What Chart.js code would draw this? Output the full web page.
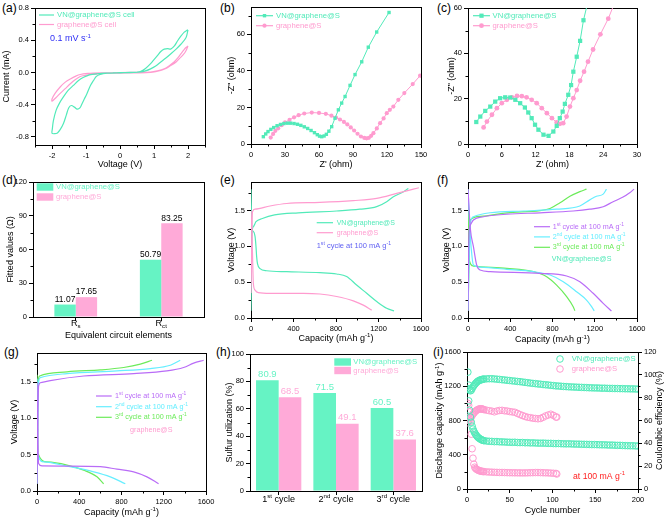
<!DOCTYPE html>
<html>
<head>
<meta charset="utf-8">
<script src="https://cdn.jsdelivr.net/npm/chart.js@4.4.1/dist/chart.umd.min.js"></script>
<style>
  html, body { margin: 0; padding: 0; background: #fff; }
  #fig { position: relative; width: 667px; height: 519px; overflow: hidden; font-family: Arial, "Liberation Sans", sans-serif; }
  #fig canvas { position: absolute; }
  .lbl { position: absolute; font-size: 12px; line-height: 14px; color: #000; }
</style>
</head>
<body>
<div id="fig">
  <div class="lbl" style="left:2px;top:1px">(a)</div>
  <div class="lbl" style="left:220px;top:1px">(b)</div>
  <div class="lbl" style="left:437px;top:1px">(c)</div>
  <div class="lbl" style="left:2px;top:173px">(d)</div>
  <div class="lbl" style="left:220px;top:173px">(e)</div>
  <div class="lbl" style="left:437px;top:173px">(f)</div>
  <div class="lbl" style="left:4px;top:345px">(g)</div>
  <div class="lbl" style="left:216px;top:345px">(h)</div>
  <div class="lbl" style="left:433px;top:345px">(i)</div>
</div>
<script>
// (a) CV loops, voltage (V) / current (mA)
const cvVnV = [2.0,1.94,1.79,1.65,1.49,1.35,1.2,1.05,0.9,0.75,0.6,0.4,0.2,0,-0.2,-0.38,-0.58,-0.7,-0.78,-0.88,-0.97,-1.05,-1.12,-1.18,-1.26,-1.34,-1.43,-1.51,-1.58,-1.66,-1.76,-1.84,-1.92,-2.0,-1.99,-1.96,-1.88,-1.78,-1.66,-1.52,-1.37,-1.22,-1.07,-0.9,-0.67,-0.4,0,0.3,0.5,0.6,0.75,0.9,1.0,1.1,1.2,1.3,1.4,1.49,1.6,1.69,1.79,1.89,1.96,2.0];
const cvVnI = [0.53,0.43,0.35,0.29,0.23,0.18,0.13,0.08,0.045,0.02,0.006,0,-0.002,-0.005,-0.006,-0.01,-0.025,-0.05,-0.1,-0.17,-0.26,-0.33,-0.39,-0.44,-0.455,-0.43,-0.41,-0.44,-0.53,-0.63,-0.71,-0.75,-0.76,-0.755,-0.7,-0.6,-0.47,-0.38,-0.30,-0.22,-0.16,-0.1,-0.06,-0.03,-0.016,-0.008,-0.003,0,0.003,0.01,0.05,0.11,0.16,0.21,0.26,0.29,0.295,0.29,0.33,0.39,0.45,0.5,0.52,0.53];
const cvGrV = [2.0,1.94,1.86,1.79,1.65,1.49,1.35,1.2,1.05,0.9,0.5,0,-0.5,-0.87,-1.02,-1.17,-1.32,-1.46,-1.61,-1.76,-1.88,-2.0,-2.0,-1.91,-1.76,-1.61,-1.46,-1.3,-1.17,-0.95,-0.78,-0.3,0.3,0.9,1.1,1.3,1.45,1.59,1.7,1.79,1.88,1.94,2.0];
const cvGrI = [0.33,0.27,0.22,0.19,0.13,0.086,0.05,0.025,0.01,0,-0.005,-0.008,-0.01,-0.025,-0.035,-0.05,-0.09,-0.14,-0.2,-0.26,-0.31,-0.355,-0.33,-0.26,-0.18,-0.12,-0.08,-0.045,-0.025,-0.012,-0.008,-0.004,0,0.005,0.02,0.045,0.085,0.13,0.18,0.23,0.28,0.31,0.33];
const cvVoltTicks = [-2, -1, 0, 1, 2];
const cvCurrentTicks = [-0.8, -0.4, 0, 0.4, 0.8];

// (b) Nyquist, Z' / -Z'' (ohm)
const eisVnZre = [10.9,13,15,17.5,20,23,26,29,32,35,38,41,44,47,50,53,56,58.5,60.5,62.4,64.5,66.5,68.7,71.2,74.1,77.1,80,83,87.4,91.8,97.7,103.5,110.9,121.8];
const eisVnZim = [4,5.5,6.8,8,9,10,10.7,11.2,11.4,11.4,11.2,10.8,10.2,9.4,8.5,7.4,6.2,5.1,4.3,4,4.4,5.3,7,9.5,14.1,18.7,22.4,26,32.1,38,45,53,61.3,72];
const eisGrZre = [17.4,19.5,21.5,24,27,30,34,38,42,47,53.6,60,66,71,75,78.5,82,85,88,91,94,97,100,102,104,106,108,111,113.9,117,119.8,122.5,125.6,130,135.3,142.7,149.2];
const eisGrZim = [3.5,5.5,7.2,8.6,10.3,11.8,13.2,14.6,15.8,16.7,17.2,17,16.5,15.5,14.5,13.4,12.1,10.7,9.1,7.4,5.6,4.1,3.3,3.1,3.4,4.5,5.9,8.5,11.4,14,16.9,18.7,20.5,24.2,27.9,32.8,37.4];
const zReTicksB = [0, 30, 60, 90, 120, 150];
const zImTicksB = [0, 20, 40, 60];

// (c) Nyquist after cycling
const eisVn2Zre = [1.47,2.18,3.06,3.95,4.83,5.7,6.6,7.5,8.4,9.26,10.1,10.7,11.3,11.9,12.5,13.4,14.3,15.15,15.75,16.3,16.8,17.2,17.8,18.3,18.7,19.3,19.9,20.5,21.6];
const eisVn2Zim = [9.7,12.1,14.6,16.5,18.7,20.2,20.6,20.5,19.5,18,16.1,13.9,11.4,8.5,6.3,4.1,3.6,5.5,8,11.4,14.3,17.7,21.7,26,31.9,38.5,45.5,54.6,66];
const eisGr2Zre = [2.77,3.36,4.25,5.13,6.0,6.9,7.8,8.7,9.56,10.4,11.3,12.2,13.1,14,14.9,15.75,16.3,16.9,17.5,18.1,18.7,19.3,19.9,20.6,21.3,22.2,23.5,24.9,26.3];
const eisGr2Zim = [7.3,9.9,12.9,15.8,18,19.5,20.6,21.2,21.1,20.6,19.5,18,15.8,13.6,11.4,9.5,8.9,9.2,12.1,16.5,20.2,23.8,27.9,31.9,36.3,41.7,48.4,55.3,64];
const zReTicksC = [0, 6, 12, 18, 24, 30];
const zImTicksC = [0, 20, 40, 60];

// (d) fitted circuit values
const circuitLabels = ['R_{s}', 'R_{ct}'];
const fitVn = [11.07, 50.79];
const fitGr = [17.65, 83.25];
const fitTicks = [0, 30, 60, 90, 120];

// (e) first cycle charge/discharge
const eVnDisCap = [0, 8, 22, 38, 47, 53, 61, 85, 147, 336, 649, 806, 900, 994, 1089, 1183, 1277, 1346];
const eVnDisV = [1.8, 1.26, 1.21, 1.14, 1.0, 0.86, 0.76, 0.69, 0.66, 0.647, 0.633, 0.615, 0.58, 0.46, 0.345, 0.23, 0.135, 0.10];
const eVnChgCap = [0, 10, 22, 47, 107, 222, 445, 806, 1025, 1183, 1277, 1340, 1418, 1481];
const eVnChgV = [0.1, 1.2, 1.275, 1.345, 1.39, 1.44, 1.47, 1.495, 1.52, 1.555, 1.625, 1.695, 1.75, 1.81];
const eGrDisCap = [0, 8, 14, 22, 38, 69, 179, 492, 649, 806, 963, 1057, 1136];
const eGrDisV = [1.5, 1.2, 0.9, 0.485, 0.39, 0.355, 0.345, 0.345, 0.335, 0.30, 0.24, 0.18, 0.11];
const eGrChgCap = [0, 14, 38, 179, 336, 649, 963, 1183, 1371, 1528, 1580];
const eGrChgV = [0.35, 1.485, 1.52, 1.565, 1.60, 1.615, 1.64, 1.67, 1.74, 1.80, 1.82];

// (f) VN@graphene@S cycles 1-3
const fC1DisCap = [0, 22, 51, 82, 114, 210, 682, 934, 1059, 1185, 1280, 1358];
const fC1DisV = [1.8, 1.25, 1.0, 0.74, 0.67, 0.647, 0.624, 0.587, 0.507, 0.345, 0.205, 0.098];
const fC1ChgCap = [0, 10, 22, 51, 147, 368, 682, 996, 1153, 1280, 1374, 1468, 1531, 1572];
const fC1ChgV = [0.1, 1.2, 1.30, 1.37, 1.415, 1.45, 1.47, 1.495, 1.52, 1.555, 1.625, 1.69, 1.75, 1.80];
const fC2DisCap = [0, 22, 38, 51, 114, 368, 619, 777, 902, 1028, 1122, 1165, 1195];
const fC2DisV = [1.8, 1.135, 0.86, 0.74, 0.71, 0.68, 0.647, 0.60, 0.507, 0.367, 0.25, 0.17, 0.10];
const fC2ChgCap = [0, 22, 51, 210, 524, 839, 1059, 1153, 1216, 1280, 1311];
const fC2ChgV = [0.1, 1.32, 1.415, 1.47, 1.495, 1.52, 1.565, 1.65, 1.70, 1.73, 1.80];
const fC3DisCap = [0, 12, 51, 368, 619, 745, 839, 934, 996, 1012];
const fC3DisV = [1.8, 0.81, 0.726, 0.694, 0.647, 0.577, 0.46, 0.30, 0.158, 0.10];
const fC3ChgCap = [0, 22, 114, 368, 682, 777, 871, 965, 1059, 1122];
const fC3ChgV = [0.1, 1.37, 1.42, 1.47, 1.50, 1.53, 1.61, 1.70, 1.765, 1.80];

// (g) graphene@S cycles 1-3
const gC1ChgCap = [0, 15, 31, 126, 442, 915, 1230, 1388, 1483, 1578];
const gC1ChgV = [0.1, 1.444, 1.49, 1.52, 1.583, 1.616, 1.653, 1.70, 1.76, 1.80];
const gC2ChgCap = [0, 15, 31, 284, 757, 1073, 1262, 1356];
const gC2ChgV = [0.1, 1.5, 1.56, 1.617, 1.653, 1.686, 1.732, 1.80];
const gC3ChgCap = [0, 12, 25, 284, 600, 821, 978, 1089];
const gC3ChgV = [0.1, 1.52, 1.583, 1.64, 1.667, 1.70, 1.746, 1.80];
const gC1DisCap = [0, 15, 47, 284, 600, 757, 915, 1041, 1151];
const gC1DisV = [1.5, 0.38, 0.345, 0.343, 0.335, 0.30, 0.264, 0.195, 0.10];
const gC2DisCap = [0, 9, 66, 284, 537, 694, 836];
const gC2DisV = [1.55, 0.496, 0.40, 0.343, 0.264, 0.195, 0.10];
const gC3DisCap = [0, 9, 97, 284, 442, 568, 631];
const gC3DisV = [1.6, 0.52, 0.40, 0.357, 0.287, 0.195, 0.10];
const capTicks = [0, 400, 800, 1200, 1600];
const voltTicks = [0, 0.5, 1.0, 1.5];

// (h) sulfur utilization
const cycleLabels = ['1^{st} cycle', '2^{nd} cycle', '3^{rd} cycle'];
const utilVn = [80.9, 71.5, 60.5];
const utilGr = [68.5, 49.1, 37.6];
const utilTicks = [0, 20, 40, 60, 80, 100];

// (i) cycling at 100 mA g-1
const vnCycles = [1,2,3,4,5,6,7,8,9,10,11,12,13,14,15,16,17,18,19,20,23,26,29,32,35,38,41,44,47,50,53,56,59,62,65,68,71,74,77,80,83,86,89,92,95,98,101,104,107,110,113,116,119,122,125,128,131,134,137,140,143,146,149,152,155,158,161,164,167,170,173,176,179,182,185,188,191,194,197,200];
const vnCap = [1365,1030,920,840,780,735,700,675,655,640,625,612,602,594,587,580,575,571,567,564,
  560,557,556,553,554,551,550,549,547,546,545,546,543,542,543,540,541,538,539,537,
  536,535,536,534,533,533,531,530,531,529,528,527,528,526,525,524,524,522,522,521,
  520,519,519,518,517,516,516,514,513,513,511,510,510,508,507,506,505,505,503,502];
const vnCE = [88,91,87,86,86.5,88,89.5,90.5,91.5,92.5,93.2,94,94.5,95,95.3,95.6,95.8,96,96.2,96.3,
  96.5,96.6,96.6,96.4,96.2,96,95.7,95.5,95.2,95,94.7,94.5,94.2,94,93.7,93.4,93.1,92.8,92.5,92.3,
  92,91.8,91.5,91.3,91.1,90.8,90.6,90.3,90.2,90,89.8,89.7,89.5,89.4,89.3,89.2,89.1,89,88.9,88.8,
  88.7,88.6,88.5,88.5,88.4,88.3,88.3,88.2,88.1,88.1,88,88,87.9,87.9,87.8,87.8,87.7,87.7,87.6,87.5];
const grCycles = [1,2,3,4,5,6,7,8,9,10,11,12,13,14,15,16,17,18,19,20,23,26,29,32,35,38,41,44,47,50,53,56,59,62,65,68,71,74,77,80,83,86,89,92,95,98,101,104,105];
const grCap = [1000,975,900,790,640,470,360,290,255,240,232,225,220,215,212,209,207,205,204,203,
  200,198,197,195,194,193,193,192,191,190,190,189,189,188,188,188,189,190,191,192,
  192,191,190,189,188,186,184,182,175];
const grCE = [58,60,61,62,63,64.5,65.5,66.5,67.5,68.2,68.8,69.3,69.7,70,70.2,70.3,70.2,70,69.8,69.5,
  69,68.6,68.2,67.6,68.3,68.8,68.9,68.5,68.3,67.8,67.5,67.2,66.2,65.2,64.3,63.5,62.8,62.5,62,61.8,
  61.5,61.8,62.8,64,64.8,65.5,64.5,63,63];
const cycleTicks = [0, 50, 100, 150, 200];
const dcapTicks = [0, 400, 800, 1200, 1600];
const ceTicks = [0, 20, 40, 60, 80, 100, 120];

const FONT = 'Arial, "Liberation Sans", sans-serif';
const TEAL = '#52eab9', PINK = '#ff9bcf';
const TEAL_BAR = '#66f3c4', PINK_BAR = '#ffaad8';
const PURPLE = '#b96cf7', CYAN = '#66eeff', GREEN = '#6ceb5a';

Chart.defaults.font.family = FONT;
Chart.defaults.color = '#000';

const fig = document.getElementById('fig');
const pts = (xs, ys) => xs.map((x, i) => ({x, y: ys[i]}));

// text with ^{sup} and _{sub}
function richParts(s) {
  const parts = [];
  const re = /([\^_])\{([^}]*)\}/g;
  let last = 0, m;
  while ((m = re.exec(s))) {
    if (m.index > last) parts.push({t: s.slice(last, m.index), k: 0});
    parts.push({t: m[2], k: m[1] === '^' ? 1 : -1});
    last = re.lastIndex;
  }
  if (last < s.length) parts.push({t: s.slice(last), k: 0});
  return parts;
}

function drawRich(ctx, s, x, y, size, color, align, rot) {
  ctx.save();
  ctx.translate(x, y);
  if (rot) ctx.rotate(rot);
  const parts = richParts(s);
  const small = size * 0.68;
  let w = 0;
  parts.forEach(p => {
    ctx.font = (p.k ? small : size) + 'px ' + FONT;
    p.w = ctx.measureText(p.t).width;
    w += p.w;
  });
  let cx = align === 'center' ? -w / 2 : align === 'right' ? -w : 0;
  ctx.fillStyle = color;
  ctx.textBaseline = 'middle';
  ctx.textAlign = 'left';
  parts.forEach(p => {
    ctx.font = (p.k ? small : size) + 'px ' + FONT;
    const dy = p.k === 1 ? -size * 0.33 : p.k === -1 ? size * 0.3 : 0;
    ctx.fillText(p.t, cx, dy);
    cx += p.w;
  });
  ctx.restore();
}

function marker(ctx, kind, x, y, r, color, filled) {
  ctx.beginPath();
  if (kind === 'rect') {
    const s = r * Math.SQRT1_2;
    ctx.rect(x - s, y - s, 2 * s, 2 * s);
  } else {
    ctx.arc(x, y, r, 0, Math.PI * 2);
  }
  if (filled) { ctx.fillStyle = color; ctx.fill(); }
  else { ctx.strokeStyle = color; ctx.lineWidth = 1; ctx.stroke(); }
}

function lineSet(data, color, extra) {
  return Object.assign({
    data, borderColor: color, backgroundColor: color, borderWidth: 1.2,
    pointRadius: 0, fill: false, tension: 0
  }, extra || {});
}

function markSet(data, color, style, r) {
  return lineSet(data, color, {
    borderWidth: 1, pointRadius: r, pointStyle: style,
    pointBackgroundColor: color, pointBorderColor: color, pointBorderWidth: 0
  });
}

function openSet(data, color, axis) {
  return {
    data, yAxisID: axis, showLine: false, borderColor: color, backgroundColor: 'rgba(0,0,0,0)',
    pointRadius: 3.3, pointStyle: 'circle', pointBorderColor: color,
    pointBackgroundColor: 'rgba(0,0,0,0)', pointBorderWidth: 1
  };
}

// frame, minor ticks, titles, legends and notes
function deco(spec, ox, oy) {
  return {
    id: 'deco',
    beforeDatasetsDraw(chart) {
      const ctx = chart.ctx, ca = chart.chartArea;
      ctx.save();
      ctx.strokeStyle = '#000';
      ctx.lineWidth = 1;
      ctx.strokeRect(ca.left + 0.5, ca.top + 0.5, ca.right - ca.left, ca.bottom - ca.top);
      ctx.beginPath();
      Object.keys(spec.scales).forEach(id => {
        const s = spec.scales[id], sc = chart.scales[id];
        if (!s.minor) return;
        const start = Math.ceil(s.min / s.minor - 1e-9) * s.minor;
        for (let v = start; v <= s.max + 1e-9; v += s.minor) {
          if (s.ticks.some(t => Math.abs(t - v) < s.minor * 0.01)) continue;
          const p = Math.round(sc.getPixelForValue(v)) + 0.5;
          if (id === 'x') { ctx.moveTo(p, ca.bottom); ctx.lineTo(p, ca.bottom + 2.5); }
          else if (id === 'y1') { ctx.moveTo(ca.right, p); ctx.lineTo(ca.right + 2.5, p); }
          else { ctx.moveTo(ca.left, p); ctx.lineTo(ca.left - 2.5, p); }
        }
      });
      ctx.stroke();
      ctx.restore();
    },
    afterDraw(chart) {
      const ctx = chart.ctx, ca = chart.chartArea;
      ctx.save();
      ctx.translate(-ox, -oy);
      const cx = (ca.left + ca.right) / 2 + ox, cy = (ca.top + ca.bottom) / 2 + oy;
      if (spec.xTitle) drawRich(ctx, spec.xTitle[0], cx, spec.xTitle[1], 9, '#000', 'center');
      if (spec.yTitle) drawRich(ctx, spec.yTitle[0], spec.yTitle[1], cy, 9, '#000', 'center', -Math.PI / 2);
      if (spec.y2Title) drawRich(ctx, spec.y2Title[0], spec.y2Title[1], cy, 9, '#000', 'center', -Math.PI / 2);

      (spec.legend || []).forEach(it => {
        if (it.kind === 'box') {
          ctx.fillStyle = it.color;
          ctx.fillRect(it.x0, it.y - 3.7, it.x1 - it.x0, 7.4);
        } else if (it.kind === 'line') {
          ctx.strokeStyle = it.color;
          ctx.lineWidth = 1.2;
          ctx.beginPath();
          ctx.moveTo(it.x0, it.y);
          ctx.lineTo(it.x1, it.y);
          ctx.stroke();
        }
        if (it.mark) marker(ctx, it.mark, (it.x0 + it.x1) / 2, it.y, it.r || 2.4, it.color, it.fill !== false);
        drawRich(ctx, it.t, it.tx, it.y, it.size || 7.7, it.color, 'left');
      });

      (spec.texts || []).forEach(t => drawRich(ctx, t.t, t.x, t.y, t.size, t.color, t.align || 'left'));

      if (spec.barLabels) {
        const bl = spec.barLabels;
        chart.data.datasets.forEach((ds, i) => {
          chart.getDatasetMeta(i).data.forEach((el, j) => {
            const col = bl.color || ds.backgroundColor;
            drawRich(ctx, ds.data[j].toFixed(bl.digits), el.x + ox, el.y + oy - bl.gap, bl.size, col, 'center');
          });
        });
      }

      if (spec.catLabels) {
        const xs = chart.scales.x;
        spec.catLabels.labels.forEach((lab, i) => {
          drawRich(ctx, lab, xs.getPixelForTick(i) + ox, spec.catLabels.y, spec.catLabels.size, '#000', 'center');
        });
      }
      ctx.restore();
    }
  };
}

function panel(spec) {
  const [bl, bt, bw, bh] = spec.box;
  const [L, T, R, B] = spec.area;
  const cv = document.createElement('canvas');
  cv.width = bw;
  cv.height = bh;
  Object.assign(cv.style, {left: bl + 'px', top: bt + 'px', width: bw + 'px', height: bh + 'px'});
  fig.appendChild(cv);

  const yw = L - bl, rw = bl + bw - R, th = T - bt, xh = bt + bh - B;
  const hasRight = !!spec.scales.y1;
  const scales = {};
  Object.keys(spec.scales).forEach(id => {
    const s = spec.scales[id];
    const isX = id === 'x', right = id === 'y1';
    const c = {
      type: s.type || 'linear',
      position: isX ? 'bottom' : right ? 'right' : 'left',
      grid: {drawOnChartArea: false, tickLength: 4, color: '#000', offset: false, tickWidth: 1},
      border: {display: false},
      ticks: {font: {size: 7.5}, color: '#000', padding: 2, maxRotation: 0, autoSkip: false},
      afterFit: a => {
        if (isX) { a.height = xh; a.paddingLeft = 0; a.paddingRight = 0; }
        else { a.width = right ? rw : yw; a.paddingTop = 0; a.paddingBottom = 0; }
      }
    };
    if (s.type === 'category') {
      c.ticks.callback = () => '';
    } else {
      c.min = s.min;
      c.max = s.max;
      c.afterBuildTicks = a => { a.ticks = s.ticks.map(v => ({value: v})); };
      c.ticks.callback = v => (s.fmt ? s.fmt(v) : String(v));
    }
    scales[id] = c;
  });

  return new Chart(cv, {
    type: spec.type,
    data: {labels: spec.labels, datasets: spec.datasets},
    options: {
      responsive: false,
      animation: false,
      devicePixelRatio: 1,
      events: [],
      layout: {padding: {left: 0, top: th, right: hasRight ? 0 : rw, bottom: 0}},
      plugins: {legend: {display: false}, tooltip: {enabled: false}},
      scales
    },
    plugins: [deco(spec, bl, bt)]
  });
}

const fix1 = v => v.toFixed(1);
const mono = {cubicInterpolationMode: 'monotone'};

// (a)
panel({
  box: [0, 0, 222, 172], area: [35, 8, 205, 145], type: 'line',
  datasets: [
    lineSet(pts(cvVnV, cvVnI), TEAL, {tension: 0.3}),
    lineSet(pts(cvGrV, cvGrI), PINK, {tension: 0.3})
  ],
  scales: {
    x: {min: -2.5, max: 2.5, ticks: cvVoltTicks, minor: 0.5},
    y: {min: -0.9, max: 0.8, ticks: cvCurrentTicks, minor: 0.2, fmt: fix1}
  },
  xTitle: ['Voltage (V)', 165], yTitle: ['Current (mA)', 7],
  legend: [
    {kind: 'line', x0: 39, x1: 54, y: 15, tx: 57, t: 'VN@graphene@S cell', color: TEAL},
    {kind: 'line', x0: 39, x1: 54, y: 24.5, tx: 57, t: 'graphene@S cell', color: PINK}
  ],
  texts: [{t: '0.1 mV s^{-1}', x: 50, y: 39, size: 9, color: '#2f2ff5'}]
});

// (b)
panel({
  box: [222, 0, 222, 172], area: [251, 7, 421, 144], type: 'line',
  datasets: [
    markSet(pts(eisVnZre, eisVnZim), TEAL, 'rect', 2.4),
    markSet(pts(eisGrZre, eisGrZim), PINK, 'circle', 2.1)
  ],
  scales: {
    x: {min: 0, max: 150, ticks: zReTicksB, minor: 15},
    y: {min: 0, max: 75, ticks: zImTicksB, minor: 10}
  },
  xTitle: ["Z' (ohm)", 165], yTitle: ['-Z" (ohm)', 232],
  legend: [
    {kind: 'line', x0: 256, x1: 273, y: 15.7, tx: 276, t: 'VN@graphene@S', color: TEAL, mark: 'rect', r: 2.4},
    {kind: 'line', x0: 256, x1: 273, y: 25.7, tx: 276, t: 'graphene@S', color: PINK, mark: 'circle', r: 2.1}
  ]
});

// (c)
panel({
  box: [440, 0, 227, 172], area: [468, 8, 637, 144], type: 'line',
  datasets: [
    markSet(pts(eisVn2Zre, eisVn2Zim), TEAL, 'rect', 3),
    markSet(pts(eisGr2Zre, eisGr2Zim), PINK, 'circle', 2.4)
  ],
  scales: {
    x: {min: 0, max: 30, ticks: zReTicksC, minor: 3},
    y: {min: 0, max: 60, ticks: zImTicksC, minor: 10}
  },
  xTitle: ["Z' (ohm)", 165], yTitle: ['-Z" (ohm)', 451.5],
  legend: [
    {kind: 'line', x0: 473, x1: 490, y: 15.7, tx: 492.5, t: 'VN@graphene@S', color: TEAL, mark: 'rect', r: 3},
    {kind: 'line', x0: 473, x1: 490, y: 25.7, tx: 492.5, t: 'graphene@S', color: PINK, mark: 'circle', r: 2.4}
  ]
});

// (d)
panel({
  box: [0, 172, 222, 172], area: [33, 182, 204, 317], type: 'bar',
  labels: ['Rs', 'Rct'],
  datasets: [
    {data: fitVn, backgroundColor: TEAL_BAR, borderWidth: 0, categoryPercentage: 0.5, barPercentage: 1},
    {data: fitGr, backgroundColor: PINK_BAR, borderWidth: 0, categoryPercentage: 0.5, barPercentage: 1}
  ],
  scales: {
    x: {type: 'category'},
    y: {min: 0, max: 120, ticks: fitTicks, minor: 15}
  },
  xTitle: ['Equivalent circuit elements', 335.5], yTitle: ['Fitted values (\u03a9)', 11],
  catLabels: {labels: circuitLabels, y: 324, size: 9},
  barLabels: {color: '#000', digits: 2, size: 8.5, gap: 5},
  legend: [
    {kind: 'box', x0: 36.7, x1: 53.3, y: 187, tx: 56, t: 'VN@graphene@S', color: TEAL_BAR},
    {kind: 'box', x0: 36.7, x1: 53.3, y: 197, tx: 56, t: 'graphene@S', color: PINK_BAR}
  ]
});

// (e)
panel({
  box: [222, 172, 222, 174], area: [251, 182, 421, 318], type: 'line',
  datasets: [
    lineSet(pts(eGrDisCap, eGrDisV), PINK, mono),
    lineSet(pts(eGrChgCap, eGrChgV), PINK, mono),
    lineSet(pts(eVnDisCap, eVnDisV), TEAL, mono),
    lineSet(pts(eVnChgCap, eVnChgV), TEAL, mono)
  ],
  scales: {
    x: {min: 0, max: 1600, ticks: capTicks, minor: 200},
    y: {min: 0, max: 1.9, ticks: voltTicks, minor: 0.25, fmt: fix1}
  },
  xTitle: ['Capacity (mAh g^{-1})', 338.5], yTitle: ['Voltage (V)', 231.5],
  legend: [
    {kind: 'line', x0: 316.7, x1: 333, y: 222.7, tx: 336.7, t: 'VN@graphene@S', color: TEAL, size: 7},
    {kind: 'line', x0: 316.7, x1: 333, y: 232.7, tx: 336.7, t: 'graphene@S', color: PINK, size: 7}
  ],
  texts: [{t: '1^{st} cycle at 100 mA g^{-1}', x: 316.7, y: 246, size: 7.5, color: '#6161f2'}]
});

// (f)
panel({
  box: [440, 172, 227, 174], area: [468, 182, 637, 318], type: 'line',
  datasets: [
    lineSet(pts(fC1DisCap, fC1DisV), PURPLE, mono),
    lineSet(pts(fC1ChgCap, fC1ChgV), PURPLE, mono),
    lineSet(pts(fC2DisCap, fC2DisV), CYAN, mono),
    lineSet(pts(fC2ChgCap, fC2ChgV), CYAN, mono),
    lineSet(pts(fC3DisCap, fC3DisV), GREEN, mono),
    lineSet(pts(fC3ChgCap, fC3ChgV), GREEN, mono)
  ],
  scales: {
    x: {min: 0, max: 1600, ticks: capTicks, minor: 200},
    y: {min: 0, max: 1.9, ticks: voltTicks, minor: 0.25, fmt: fix1}
  },
  xTitle: ['Capacity (mAh g^{-1})', 340], yTitle: ['Voltage (V)', 446.5],
  legend: [
    {kind: 'line', x0: 534, x1: 550, y: 226.7, tx: 552.7, t: '1^{st} cycle at 100 mA g^{-1}', color: PURPLE, size: 7.2},
    {kind: 'line', x0: 534, x1: 550, y: 236.9, tx: 552.7, t: '2^{nd} cycle at 100 mA g^{-1}', color: CYAN, size: 7.2},
    {kind: 'line', x0: 534, x1: 550, y: 247.3, tx: 552.7, t: '3^{rd} cycle at 100 mA g^{-1}', color: GREEN, size: 7.2}
  ],
  texts: [{t: 'VN@graphene@S', x: 551.7, y: 259.3, size: 7.2, color: TEAL}]
});

// (g)
panel({
  box: [0, 344, 222, 175], area: [37, 353, 206, 491], type: 'line',
  datasets: [
    lineSet(pts(gC1DisCap, gC1DisV), PURPLE, mono),
    lineSet(pts(gC1ChgCap, gC1ChgV), PURPLE, mono),
    lineSet(pts(gC2DisCap, gC2DisV), CYAN, mono),
    lineSet(pts(gC2ChgCap, gC2ChgV), CYAN, mono),
    lineSet(pts(gC3DisCap, gC3DisV), GREEN, mono),
    lineSet(pts(gC3ChgCap, gC3ChgV), GREEN, mono)
  ],
  scales: {
    x: {min: 0, max: 1600, ticks: capTicks, minor: 200},
    y: {min: 0, max: 1.9, ticks: voltTicks, minor: 0.25, fmt: fix1}
  },
  xTitle: ['Capacity (mAh g^{-1})', 512.5], yTitle: ['Voltage (V)', 15],
  legend: [
    {kind: 'line', x0: 96, x1: 111.7, y: 396, tx: 115, t: '1^{st} cycle at 100 mA g^{-1}', color: PURPLE, size: 7.2},
    {kind: 'line', x0: 96, x1: 111.7, y: 406.7, tx: 115, t: '2^{nd} cycle at 100 mA g^{-1}', color: CYAN, size: 7.2},
    {kind: 'line', x0: 96, x1: 111.7, y: 417.3, tx: 115, t: '3^{rd} cycle at 100 mA g^{-1}', color: GREEN, size: 7.2}
  ],
  texts: [{t: 'graphene@S', x: 130, y: 430, size: 7.2, color: PINK}]
});

// (h)
panel({
  box: [222, 344, 222, 175], area: [250, 354, 422, 491], type: 'bar',
  labels: ['1st cycle', '2nd cycle', '3rd cycle'],
  datasets: [
    {data: utilVn, backgroundColor: TEAL_BAR, borderWidth: 0, categoryPercentage: 0.79, barPercentage: 1},
    {data: utilGr, backgroundColor: PINK_BAR, borderWidth: 0, categoryPercentage: 0.79, barPercentage: 1}
  ],
  scales: {
    x: {type: 'category'},
    y: {min: 0, max: 100, ticks: utilTicks, minor: 10}
  },
  yTitle: ['Sulfur utilization (%)', 229.3],
  catLabels: {labels: cycleLabels, y: 499.5, size: 9},
  barLabels: {digits: 1, size: 9.5, gap: 6},
  legend: [
    {kind: 'box', x0: 334.3, x1: 351, y: 362, tx: 353.3, t: 'VN@graphene@S', color: TEAL_BAR},
    {kind: 'box', x0: 334.3, x1: 351, y: 370.5, tx: 353.3, t: 'graphene@S', color: PINK_BAR}
  ]
});

// (i)
panel({
  box: [428, 344, 239, 175], area: [467, 352, 638, 489], type: 'line',
  datasets: [
    openSet(pts(vnCycles, vnCE), TEAL, 'y1'),
    openSet(pts(vnCycles, vnCap), TEAL, 'y'),
    openSet(pts(grCycles, grCE), PINK, 'y1'),
    openSet(pts(grCycles, grCap), PINK, 'y')
  ],
  scales: {
    x: {min: 0, max: 200, ticks: cycleTicks, minor: 25},
    y: {min: 0, max: 1600, ticks: dcapTicks, minor: 200},
    y1: {min: 0, max: 120, ticks: ceTicks, minor: 10}
  },
  xTitle: ['Cycle number', 510.5],
  yTitle: ['Discharge capacity (mAh g^{-1})', 440],
  y2Title: ['Coulombic efficiency (%)', 660],
  legend: [
    {kind: 'none', x0: 556.7, x1: 563.3, y: 359, tx: 571.7, t: 'VN@graphene@S', color: TEAL, mark: 'circle', r: 3.3, fill: false},
    {kind: 'none', x0: 556.7, x1: 563.3, y: 369, tx: 571.7, t: 'graphene@S', color: PINK, mark: 'circle', r: 3.3, fill: false}
  ],
  texts: [{t: 'at 100 mA g^{-1}', x: 573, y: 476.7, size: 8.7, color: '#ff1f1f'}]
});
</script>
</body>
</html>
